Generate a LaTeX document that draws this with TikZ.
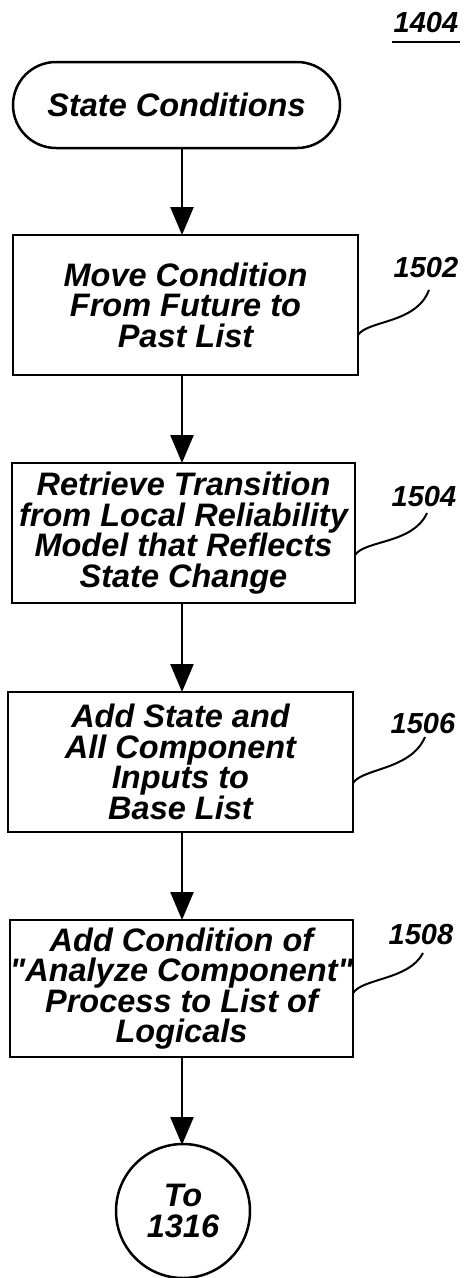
\documentclass[tikz,border=0pt]{standalone}
\usepackage{fontspec}
\setmainfont{Liberation Sans}[Ligatures=TeXOff]
\usetikzlibrary{arrows.meta,shapes.misc}
\begin{document}
\begin{tikzpicture}[x=1pt,y=-1pt,
  line width=2.5pt,
  txt/.style={font=\fontsize{32.5}{30.5}\selectfont\bfseries\itshape, align=center, inner sep=0pt},
  lbl/.style={font=\fontsize{29}{29}\selectfont\bfseries\itshape, inner sep=0pt},
  stepbox/.style={draw, rectangle, minimum width=345pt, txt},
  flow/.style={-{Triangle[length=28pt,width=23pt]}, line width=2.5pt},
  leader/.style={line width=2pt}
]
\useasboundingbox (0,0) rectangle (467,1278);
% title
\node[lbl] (title) at (426,23) {1404};
\draw[line width=2.5pt] (392,42) -- (460,42);
% terminal
\node[draw, rounded rectangle, minimum width=327pt, minimum height=86pt, txt] (start) at (176.5,105) {State Conditions};
% boxes
\node[stepbox, minimum height=140pt, minimum width=345pt] (b1) at (185.5,305) {Move Condition\\From Future to\\Past List};
\node[stepbox, minimum height=140pt, minimum width=343pt] (b2) at (183.5,533) {Retrieve Transition\\from Local Reliability\\Model that Reflects\\State Change};
\node[stepbox, minimum height=140pt, minimum width=345pt] (b3) at (180.5,762) {Add State and\\All Component\\Inputs to\\Base List};
\node[stepbox, minimum height=137pt, minimum width=343pt] (b4) at (181.5,988.5) {Add Condition of\\"Analyze Component"\\Process to List of\\Logicals};
\node[draw, circle, minimum size=134pt, txt] (end) at (183,1211) {To\\1316};
% arrows
\coordinate (s0) at (182,148);
\draw[flow] (s0) -- (182,235);
\draw[flow] (182,375) -- (182,463);
\draw[flow] (182,603) -- (182,692);
\draw[flow] (182,832) -- (182,920);
\draw[flow] (182,1057) -- (182,1145);
% labels
\node[lbl] (l1) at (426,268) {1502};
\node[lbl] (l2) at (424,497) {1504};
\node[lbl] (l3) at (423,724) {1506};
\node[lbl] (l4) at (421,935) {1508};
\draw[leader] (358,335) .. controls (368,320) and (416,324) .. (429,290);
\draw[leader] (355,555) .. controls (365,540) and (413,544) .. (427,513);
\draw[leader] (353,783) .. controls (363,768) and (411,770) .. (425,737);
\draw[leader] (353,993) .. controls (363,978) and (409,980) .. (423,953);
\end{tikzpicture}
\end{document}
